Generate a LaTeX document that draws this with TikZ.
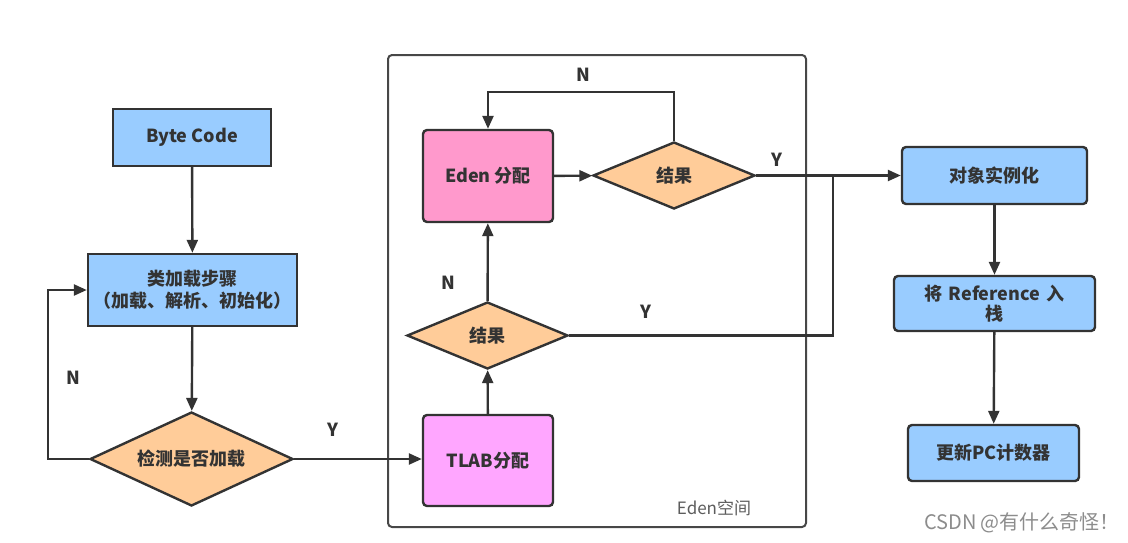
\documentclass[tikz,border=0pt]{standalone}
\usepackage{fontspec}
\setmainfont{Noto Sans CJK SC}
\usetikzlibrary{arrows.meta,shapes.geometric}
\definecolor{lblue}{HTML}{99CCFF}
\definecolor{lorange}{HTML}{FFCC99}
\definecolor{lpink}{HTML}{FF99CC}
\definecolor{lviolet}{HTML}{FFA6FF}
\definecolor{ink}{HTML}{333333}
\begin{document}
\begin{tikzpicture}[x=1pt,y=-1pt,
  every node/.style={font=\fontsize{18}{22}\selectfont\bfseries, text=ink},
  box/.style={draw=ink, line width=2.4pt, fill=lblue, minimum width=#1, align=center, inner sep=2pt},
  rbox/.style={box=#1, rounded corners=4pt},
  dia/.style={diamond, draw=ink, line width=2.4pt, fill=lorange, inner sep=0pt},
  conn/.style={draw=ink, line width=2.4pt, -{Triangle[length=13pt,width=11pt]}},
  line/.style={draw=ink, line width=2.4pt},
  lbl/.style={font=\fontsize{18}{22}\selectfont\bfseries}
]
\useasboundingbox (0,0) rectangle (1128,542);
% Eden frame
\draw[draw=ink!90, line width=2pt, rounded corners=4pt] (388,55) rectangle (806,527);
\node[font=\fontsize{17}{20}\selectfont, text=ink!80] (edenlbl) at (714,508) {Eden空间};

% left column
\node[box=158pt, minimum height=57pt] (bc) at (192,137.5) {Byte Code};
\node[box=209pt, minimum height=72pt] (load) at (192.5,290) {类加载步骤\\（加载、解析、初始化）};
\node[dia, aspect=2.16, minimum width=203pt, minimum height=94pt] (chk) at (191.5,459) {检测是否加载};

% Eden column
\node[rbox=130pt, minimum height=91pt, fill=lviolet] (tlab) at (488,460.5) {TLAB分配};
\node[dia, aspect=2.4, minimum width=161pt, minimum height=67pt] (d2) at (487.5,335.5) {结果};
\node[rbox=130pt, minimum height=92pt, fill=lpink] (eden) at (488,176) {Eden 分配};
\node[dia, aspect=2.4, minimum width=162pt, minimum height=67pt] (d1) at (674,175.5) {结果};

% right column
\node[rbox=185pt, minimum height=57pt] (obj) at (994.5,175.5) {对象实例化};
\node[rbox=201pt, minimum height=55pt, text width=192pt, font=\fontsize{18}{20}\selectfont\bfseries] (ref) at (994.5,303.5) {将 Reference 入\\栈};
\node[rbox=171pt, minimum height=56pt] (pc) at (993.5,453) {更新PC计数器};

% coordinates
\coordinate (nl) at (48,290);
\coordinate (ntop) at (674,92);
\coordinate (jt) at (833,175.5);

% connectors
\draw[conn] (bc) -- (load);
\draw[conn] (load) -- (chk);
\draw[conn] (chk.west) -| (nl) -- (load.west);
\draw[conn] (chk.east) -- (tlab.west |- chk.east);
\draw[conn] (tlab) -- (d2);
\draw[conn] (d2) -- (eden);
\draw[conn] (eden) -- (d1);
\draw[conn] (d1.north) |- (ntop) -| (eden.north);
\draw[conn] (d1.east) -- (obj.west);
\draw[line] (d2.east) -| (jt);
\draw[conn] (obj) -- (ref);
\draw[conn] (ref) -- (pc);

% labels
\node[lbl] (n1) at (73,378) {N};
\node[lbl] (y1) at (333,430) {Y};
\node[lbl] (n2) at (583,75) {N};
\node[lbl] (y2) at (777,160) {Y};
\node[lbl] (n3) at (448,283) {N};
\node[lbl] (y3) at (646,312) {Y};

\node[font=\fontsize{20}{24}\selectfont, text=black!45] (wm) at (1022,523) {CSDN @有什么奇怪！};
\end{tikzpicture}
\end{document}
